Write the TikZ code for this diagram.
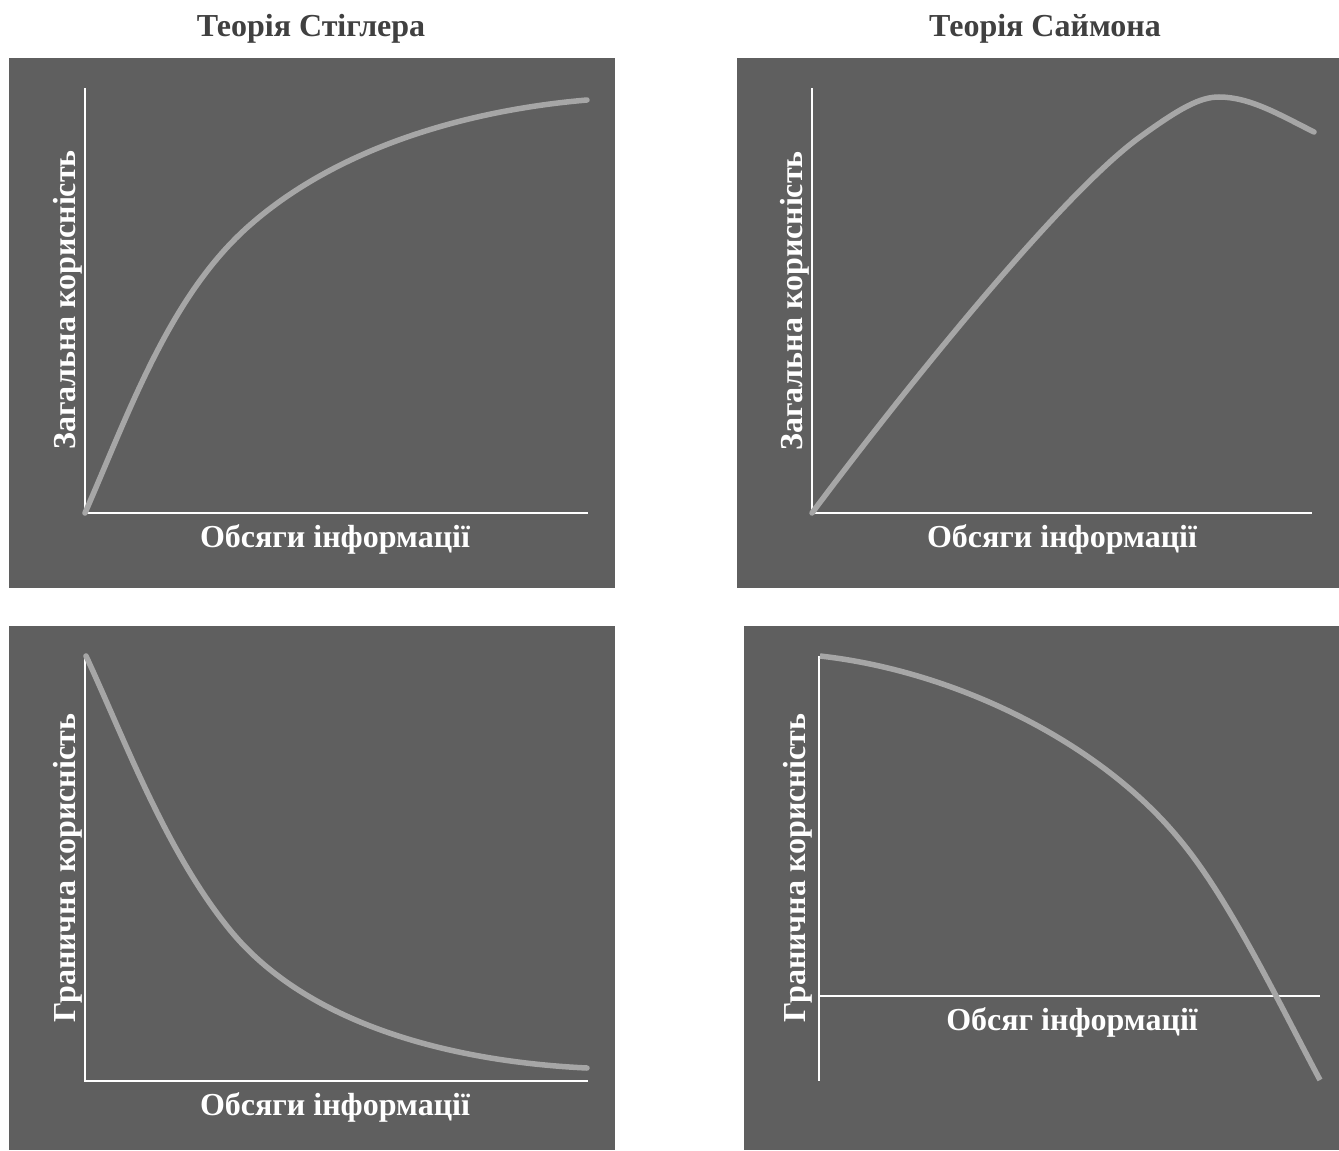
\documentclass[tikz,border=0pt]{standalone}
\usepackage{fontspec}
\setmainfont{Liberation Serif}
\begin{document}
\begin{tikzpicture}[x=1pt,y=-1pt,
  panel/.style={fill=panelgray,draw=none},
  axis/.style={draw=white,line width=1.4pt},
  curve/.style={draw=curvegray,line width=5.5pt,line cap=round},
  title/.style={font=\fontsize{32}{38}\selectfont\bfseries,text=titlegray,inner sep=0pt,anchor=base},
  xlab/.style={font=\fontsize{32}{38}\selectfont\bfseries,text=white,inner sep=0pt,anchor=base},
  ylab/.style={font=\fontsize{32}{38}\selectfont\bfseries,text=white,inner sep=0pt,anchor=base,rotate=90}]
\definecolor{panelgray}{RGB}{95,95,95}
\definecolor{curvegray}{RGB}{166,166,166}
\definecolor{titlegray}{RGB}{64,64,64}
\useasboundingbox (0,0) rectangle (1339,1151);
\fill[white] (0,0) rectangle (1339,1151);

% column titles
\node[title] (tl) at (311,36) {Теорія Стіглера};
\node[title] (tr) at (1045,36) {Теорія Саймона};

% panel backgrounds
\path[panel] (9,58) rectangle (615,588);
\path[panel] (737,58) rectangle (1339,588);
\path[panel] (9,626) rectangle (615,1150);
\path[panel] (744,626) rectangle (1339,1150);

% Stigler: total utility
\draw[axis] (85,88) -- (85,513) -- (588,513);
\draw[curve] (85,513) .. controls (130,410) and (170,295) .. (250,225)
                      .. controls (340,146) and (470,110) .. (587,100);
\node[ylab] (ya) at (75,300) {Загальна корисність};
\node[xlab] (xa) at (335,547) {Обсяги інформації};

% Simon: total utility
\draw[axis] (812,88) -- (812,513) -- (1312,513);
\draw[curve] (812,513) .. controls (900,395) and (1060,195) .. (1140,137)
                       .. controls (1180,108) and (1200,97) .. (1219,97)
                       .. controls (1250,97) and (1280,115) .. (1314,132);
\node[ylab] (yb) at (802,301) {Загальна корисність};
\node[xlab] (xb) at (1062,547) {Обсяги інформації};

% Stigler: marginal utility
\draw[axis] (85,656) -- (85,1081) -- (588,1081);
\draw[curve] (86,656) .. controls (125,740) and (165,850) .. (230,930)
                      .. controls (310,1028) and (460,1062) .. (587,1068);
\node[ylab] (yc) at (75,868) {Гранична корисність};
\node[xlab] (xc) at (335,1115) {Обсяги інформації};

% Simon: marginal utility
\draw[axis] (819,656) -- (819,1081);
\draw[axis] (819,996) -- (1320,996);
\draw[curve,line cap=butt] (820,656) .. controls (955,671) and (1100,742) .. (1180,840)
                                     .. controls (1230,900) and (1280,1005) .. (1320,1080);
\node[ylab] (yd) at (805,868) {Гранична корисність};
\node[xlab] (xd) at (1072,1030) {Обсяг інформації};
\end{tikzpicture}
\end{document}
